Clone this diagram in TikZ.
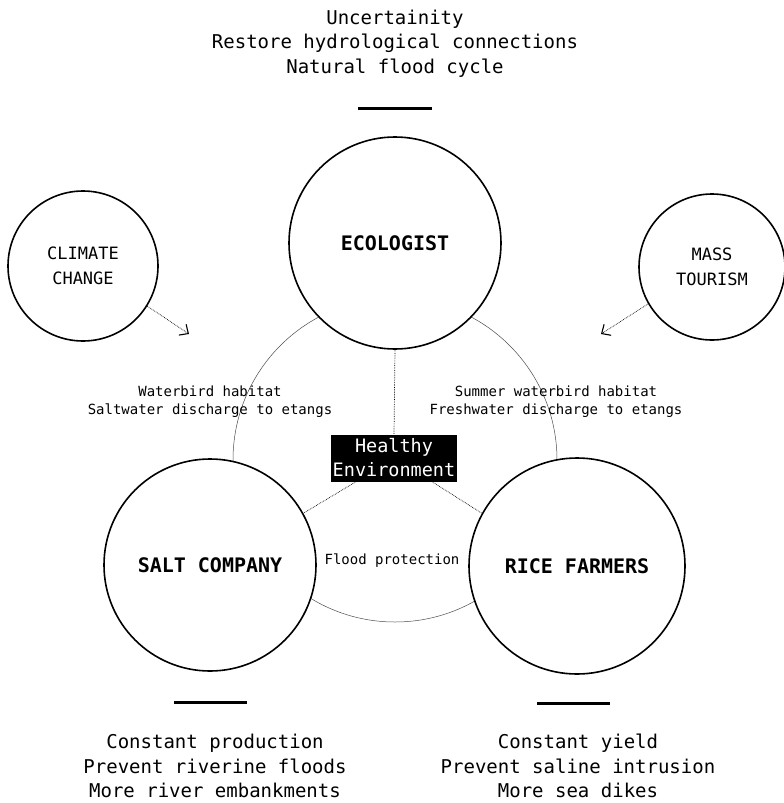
\documentclass[tikz,border=0pt]{standalone}
\usepackage{fontspec}
\setmainfont{DejaVu Sans Mono}
\usetikzlibrary{arrows.meta}
\tikzset{
  actor/.style={circle, draw=black, line width=1.6pt, fill=white, inner sep=0pt, align=center},
  bigtxt/.style={font=\fontsize{19}{24.5}\selectfont, align=center, inner sep=0pt},
  smalltxt/.style={font=\fontsize{14}{18}\selectfont, align=center, inner sep=0pt},
  bar/.style={line width=3pt},
  link/.style={densely dotted, line width=0.7pt},
  influence/.style={densely dotted, line width=0.7pt, -{Straight Barb[length=7pt,width=13pt,line width=1.1pt]}}
}
\begin{document}
\begin{tikzpicture}[x=1pt,y=-1pt]
\useasboundingbox (0,0) rectangle (784,803);
% big thin circle
\draw[line width=0.5pt, draw=black!70] (395,460) circle[radius=162];
% top text and bar
\node[bigtxt] (toptxt) at (395,43.5) {Uncertainity\\Restore hydrological connections\\Natural flood cycle};
\coordinate (tb1) at (358,108); \coordinate (tb2) at (432,108);
\draw[bar] (tb1) -- (tb2);
% actors
\node[actor, minimum size=212pt, font=\fontsize{20}{24}\selectfont\bfseries] (eco) at (395,243) {ECOLOGIST};
\node[actor, minimum size=212pt, font=\fontsize{20}{24}\selectfont\bfseries] (salt) at (210,565) {SALT COMPANY};
\node[actor, minimum size=216pt, font=\fontsize{20}{24}\selectfont\bfseries] (rice) at (577,566) {RICE FARMERS};
\node[actor, minimum size=150pt, font=\fontsize{17}{25}\selectfont] (clim) at (83,266) {CLIMATE\\CHANGE};
\node[actor, minimum size=146pt, font=\fontsize{17}{25}\selectfont] (tour) at (712,267) {MASS\\TOURISM};
% influence arrows
\coordinate (ca) at (189,334);
\coordinate (ta) at (601,334);
\draw[influence] (clim.-32) -- (ca);
\draw[influence] (tour.-150) -- (ta);
% healthy environment
\node[fill=black, text=white, font=\fontsize{18.5}{24}\selectfont, align=center, minimum width=126pt, minimum height=47pt, inner sep=0pt] (he) at (394,458) {Healthy\\Environment};
\draw[link] (eco.south) -- (he.north);
\draw[link] ([xshift=-38pt]he.south) -- (salt.29);
\draw[link] ([xshift=38pt]he.south) -- (rice.151);
% labels
\node[smalltxt] (l1) at (210,402) {Waterbird habitat\\Saltwater discharge to etangs};
\node[smalltxt] (l2) at (556,402) {Summer waterbird habitat\\Freshwater discharge to etangs};
\node[smalltxt] (l3) at (392,561) {Flood protection};
% bottom bars and texts
\coordinate (b1) at (174,702); \coordinate (b2) at (247,702);
\coordinate (b3) at (537,703); \coordinate (b4) at (610,703);
\draw[bar] (b1) -- (b2);
\draw[bar] (b3) -- (b4);
\node[bigtxt] (bl) at (215,766) {Constant production\\Prevent riverine floods\\More river embankments};
\node[bigtxt] (br) at (578,766) {Constant yield\\Prevent saline intrusion\\More sea dikes};
\end{tikzpicture}
\end{document}
